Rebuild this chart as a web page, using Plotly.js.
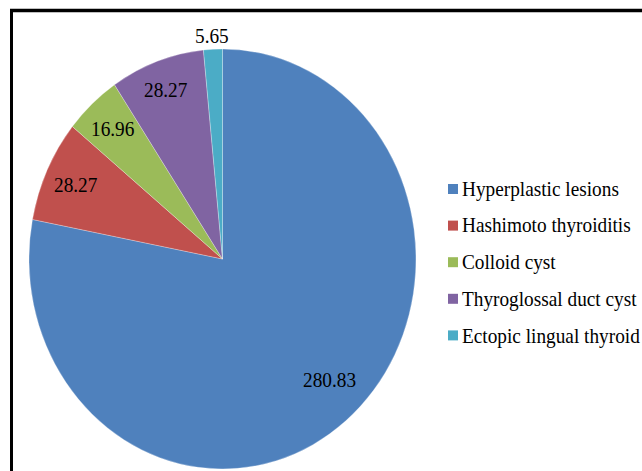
<!DOCTYPE html>
<html><head><meta charset="utf-8">
<script src="https://cdn.plot.ly/plotly-3.0.1.min.js"></script>
<style>
html,body{margin:0;padding:0;overflow:hidden;background:#fff;width:642px;height:471px}
#chart{width:642px;height:434px;transform:scaleY(1.08525);transform-origin:0 0;}
</style>
</head><body><div id="chart"></div>
<script>
// ---- data ----
const labels = ['Hyperplastic lesions','Hashimoto thyroiditis','Colloid cyst','Thyroglossal duct cyst','Ectopic lingual thyroid'];
const values = [280.83, 28.27, 16.96, 28.27, 5.65];
const colors = ['#4F81BD','#C0504D','#9BBB59','#8064A2','#4BACC6'];
// label placement style: distance from centre (fraction of radius) and angular nudge (degrees)
const labelRadius = [0.80, 0.835, 0.84, 0.86, 1.06];
const labelNudge = [-4.4, 0, 0, 0, 0];

// ---- geometry (pixels) ----
const W = 642, H = 434, S = 471/434;
const cx = 222.5, cy = 259/S, R = 193.5;
const font = {family: 'Liberation Serif, Times New Roman, serif', size: 19.3, color: '#000'};

const total = values.reduce((a,b)=>a+b,0);
const annotations = [];
let cum = 0;
values.forEach((v,i)=>{
  const mid = (cum + v/2)/total*2*Math.PI + labelNudge[i]*Math.PI/180;
  cum += v;
  const px = cx + R*labelRadius[i]*Math.sin(mid);
  const py = cy - R*labelRadius[i]*Math.cos(mid);
  annotations.push({xref:'paper',yref:'paper',x:px/W,y:1-py/H,text:v.toFixed(2),
    showarrow:false,xanchor:'center',yanchor:'middle',font:font});
});

// custom legend
const shapes = [];
const legX = 448, legSq = 10, legY0 = 189, legGap = 36.6;
labels.forEach((lab,i)=>{
  const yc = (legY0 + i*legGap)/S;
  shapes.push({type:'rect',xref:'paper',yref:'paper',
    x0:legX/W,x1:(legX+legSq)/W,y0:1-(yc+legSq/2/S)/H,y1:1-(yc-legSq/2/S)/H,
    fillcolor:colors[i],line:{width:0}});
  annotations.push({xref:'paper',yref:'paper',x:(legX+legSq+2)/W,y:1-yc/H,text:lab,
    showarrow:false,xanchor:'left',yanchor:'middle',font:font});
});
// outer frame
shapes.push({type:'rect',xref:'paper',yref:'paper',x0:11.5/W,x1:1.2,y0:-0.2,y1:1-(10.5/S)/H,
  line:{color:'#000',width:3},fillcolor:'rgba(0,0,0,0)'});

const trace = {
  type:'pie', labels:labels, values:values, sort:false, direction:'clockwise', rotation:0,
  marker:{colors:colors, line:{color:'rgba(255,255,255,0.45)', width:0.6}},
  textinfo:'none', hoverinfo:'label+value', showlegend:false,
  domain:{x:[(cx-R)/W,(cx+R)/W], y:[1-(cy+R)/H,1-(cy-R)/H]}
};

Plotly.newPlot('chart',[trace],{
  width:W, height:H, margin:{l:0,r:0,t:0,b:0},
  paper_bgcolor:'#fff', showlegend:false,
  annotations:annotations, shapes:shapes, font:font
},{displayModeBar:false, staticPlot:true});
</script>
</body></html>
